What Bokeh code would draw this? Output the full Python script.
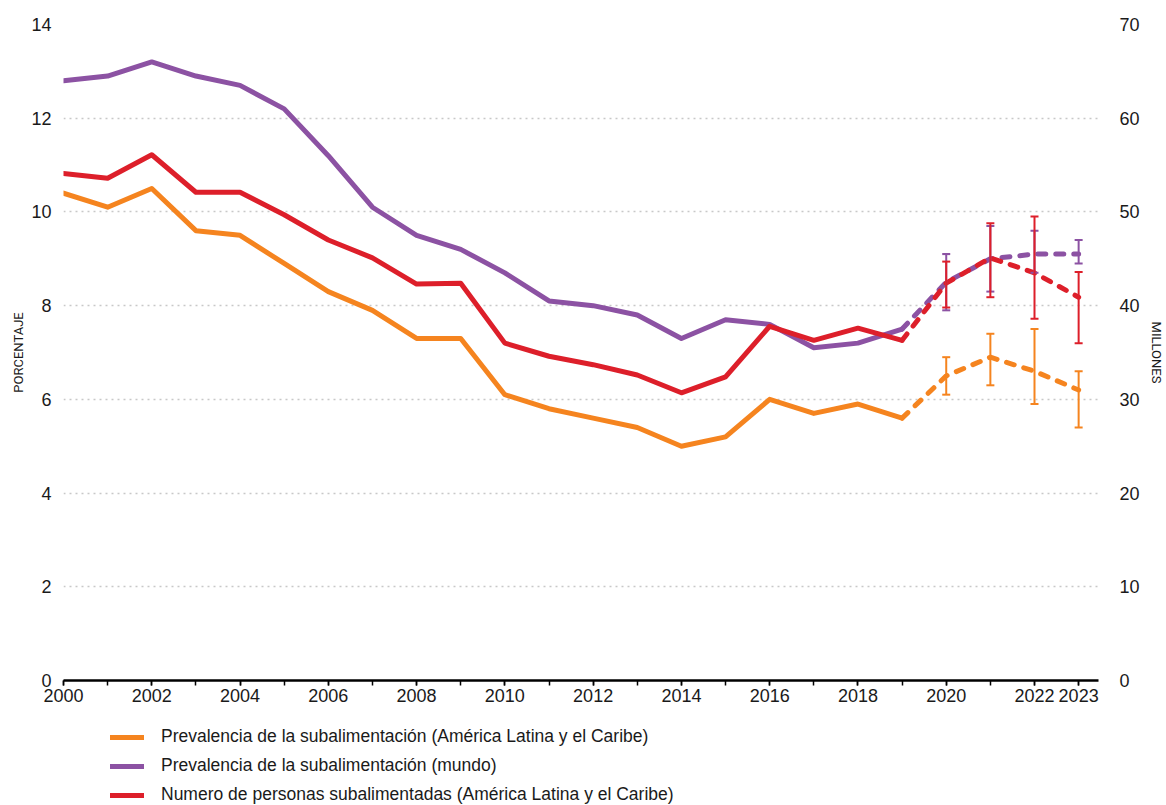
from bokeh.plotting import figure
from bokeh.layouts import column
from bokeh.models import Range1d, LinearAxis, FixedTicker, Legend, LegendItem
from bokeh.embed import file_html
from bokeh.resources import INLINE

years = list(range(2000, 2024))
lac_prev = [10.4, 10.1, 10.5, 9.6, 9.5, 8.9, 8.3, 7.9, 7.3, 7.3, 6.1, 5.8, 5.6, 5.4,
            5.0, 5.2, 6.0, 5.7, 5.9, 5.6, 6.5, 6.9, 6.6, 6.2]
world_prev = [12.8, 12.9, 13.2, 12.9, 12.7, 12.2, 11.2, 10.1, 9.5, 9.2, 8.7, 8.1, 8.0, 7.8,
              7.3, 7.7, 7.6, 7.1, 7.2, 7.5, 8.5, 9.0, 9.1, 9.1]
lac_millions = [54.1, 53.6, 56.1, 52.1, 52.1, 49.7, 47.0, 45.1, 42.3, 42.4, 36.0, 34.6, 33.7, 32.6,
                30.7, 32.4, 37.8, 36.3, 37.6, 36.3, 42.4, 45.1, 43.5, 40.9]
err_years = [2020, 2021, 2022, 2023]
lac_prev_lo = [6.1, 6.3, 5.9, 5.4]
lac_prev_hi = [6.9, 7.4, 7.5, 6.6]
world_prev_lo = [7.9, 8.3, 8.7, 8.9]
world_prev_hi = [9.1, 9.7, 9.6, 9.4]
lac_mill_lo = [39.8, 40.9, 38.6, 36.0]
lac_mill_hi = [44.7, 48.8, 49.5, 43.6]

left_ticks = [0, 2, 4, 6, 8, 10, 12, 14]
right_ticks = [0, 10, 20, 30, 40, 50, 60, 70]
x_major = [2000, 2002, 2004, 2006, 2008, 2010, 2012, 2014, 2016, 2018, 2020, 2022, 2023]

labels = ["Prevalencia de la subalimentación (América Latina y el Caribe)",
          "Prevalencia de la subalimentación (mundo)",
          "Numero de personas subalimentadas (América Latina y el Caribe)"]

ORANGE = "#F5841F"
PURPLE = "#8C52A3"
RED = "#DD1F2A"
FONT = "Liberation Sans"
NARROW = "Roboto"
TXT = "#1a1a1a"

p = figure(width=1166, height=715, x_range=Range1d(2000, 2023.45), y_range=Range1d(0, 14),
           output_backend="svg", toolbar_location=None,
           min_border_left=63, min_border_right=68, min_border_top=24, min_border_bottom=35)
p.extra_y_ranges = {"mill": Range1d(0, 70)}
p.outline_line_color = None
p.background_fill_color = "white"
p.border_fill_color = "white"

# grid
p.xgrid.grid_line_color = None
p.ygrid.ticker = FixedTicker(ticks=left_ticks[1:])
p.ygrid.grid_line_color = "#c8c8c8"
p.ygrid.grid_line_dash = "2 4"
p.ygrid.grid_line_width = 1.5

# x axis
xa = p.xaxis[0]
xa.ticker = FixedTicker(ticks=x_major, minor_ticks=years)
xa.axis_line_color = "black"
xa.axis_line_width = 2.5
xa.major_tick_line_color = "black"
xa.major_tick_line_width = 1.5
xa.major_tick_in = 0
xa.major_tick_out = 5
xa.minor_tick_line_color = "black"
xa.minor_tick_line_width = 1.5
xa.minor_tick_in = 0
xa.minor_tick_out = 5
xa.major_label_standoff = 3
xa.major_label_text_font = FONT
xa.major_label_text_font_size = "18px"
xa.major_label_text_color = TXT

# left axis
ya = p.yaxis[0]
ya.ticker = FixedTicker(ticks=left_ticks)
ya.axis_line_color = None
ya.major_tick_line_color = None
ya.minor_tick_line_color = None
ya.major_label_standoff = 6
ya.major_label_text_font = FONT
ya.major_label_text_font_size = "18px"
ya.major_label_text_color = TXT
ya.axis_label = "PORCENTAJE"
ya.axis_label_text_font = NARROW
ya.axis_label_text_font_style = "normal"
ya.axis_label_text_font_size = "13px"
ya.axis_label_text_color = TXT
ya.axis_label_standoff = 2

# right axis
ra = LinearAxis(y_range_name="mill", ticker=FixedTicker(ticks=right_ticks))
ra.axis_line_color = None
ra.major_tick_line_color = None
ra.minor_tick_line_color = None
ra.major_label_standoff = 15
ra.major_label_text_font = FONT
ra.major_label_text_font_size = "18px"
ra.major_label_text_color = TXT
ra.axis_label = "MILLONES"
ra.axis_label_text_font = NARROW
ra.axis_label_text_font_style = "normal"
ra.axis_label_text_font_size = "13px"
ra.axis_label_text_color = TXT
ra.axis_label_standoff = 6
p.add_layout(ra, "right")

LW = 5
DASH = "8 10"
split = years.index(2019)

def draw(vals, color, yname=None):
    kw = {"y_range_name": yname} if yname else {}
    p.line(years[:split + 1], vals[:split + 1], line_color=color, line_width=LW,
           line_cap="round", line_join="round", **kw)
    p.line(years[split:], vals[split:], line_color=color, line_width=LW,
           line_cap="round", line_join="round", line_dash=DASH, **kw)

draw(lac_prev, ORANGE)
draw(world_prev, PURPLE)
draw(lac_millions, RED, "mill")

def bars(lo, hi, color, yname=None):
    kw = {"y_range_name": yname} if yname else {}
    p.segment(err_years, lo, err_years, hi, line_color=color, line_width=2, **kw)
    p.scatter(err_years, lo, marker="dash", size=8, line_color=color, line_width=2, **kw)
    p.scatter(err_years, hi, marker="dash", size=8, line_color=color, line_width=2, **kw)

bars(lac_prev_lo, lac_prev_hi, ORANGE)
bars(world_prev_lo, world_prev_hi, PURPLE)
bars(lac_mill_lo, lac_mill_hi, RED, "mill")

# legend figure (below the chart)
q = figure(width=1166, height=90, x_range=Range1d(0, 1), y_range=Range1d(0, 1),
           output_backend="svg", toolbar_location=None,
           min_border_left=0, min_border_right=0, min_border_top=0, min_border_bottom=0)
q.axis.visible = False
q.grid.visible = False
q.outline_line_color = None
items = []
for lab, col in zip(labels, [ORANGE, PURPLE, RED]):
    # off-screen stand-in renderer that only provides the legend swatch style
    r = q.line([-5, -4], [-5, -4], line_color=col, line_width=LW, line_cap="round")
    items.append(LegendItem(label=lab, renderers=[r]))
legend = Legend(items=items, location=(47, 0), orientation="vertical",
                glyph_width=34, glyph_height=18, label_height=18, spacing=8,
                label_standoff=17, padding=0, margin=0,
                border_line_color=None, background_fill_alpha=0,
                label_text_font=FONT, label_text_font_size="17.5px",
                label_text_color=TXT)
q.add_layout(legend, "center")

layout = column(p, q, spacing=0)
open("out.html", "w").write(file_html(layout, INLINE))
